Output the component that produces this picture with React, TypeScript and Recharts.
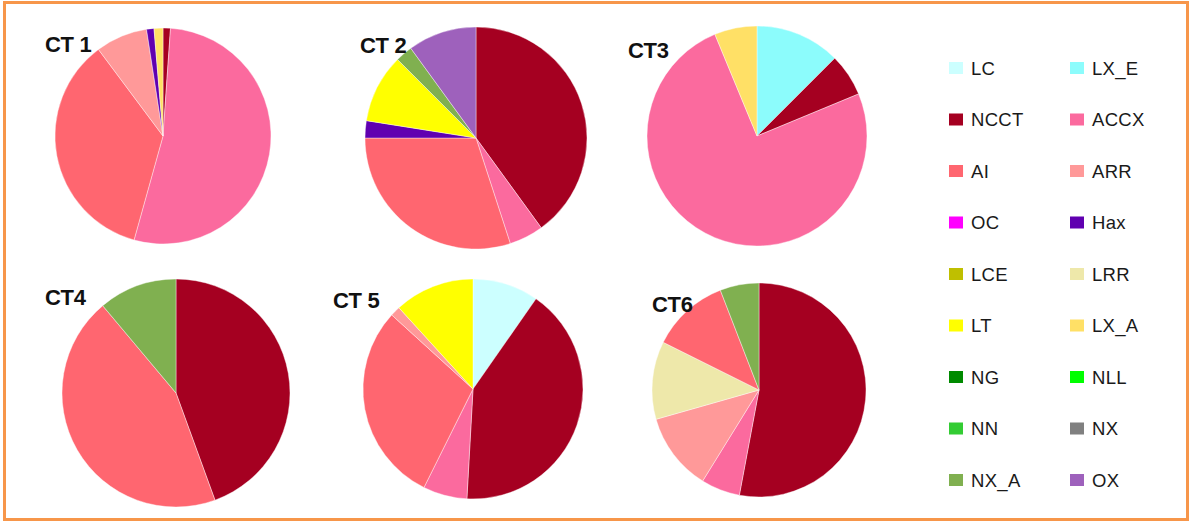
import React from 'react';
import { PieChart, Pie, Cell, Legend } from 'recharts';

const legendNames = ['LC', 'LX_E', 'NCCT', 'ACCX', 'AI', 'ARR', 'OC', 'Hax', 'LCE', 'LRR', 'LT', 'LX_A', 'NG', 'NLL', 'NN', 'NX', 'NX_A', 'OX'];
const legendColors = ['#CCFFFF', '#8CFCFC', '#A50021', '#FB6A9E', '#FF6670', '#FF9999', '#FF00FF', '#6000B0', '#BFBF00', '#EEE8AA', '#FFFF00', '#FFE066', '#008A00', '#00FF00', '#33CC33', '#808080', '#80B050', '#9E61BC'];

const ct1 = [
  { name: 'NCCT', value: 1 },
  { name: 'ACCX', value: 48 },
  { name: 'AI', value: 32 },
  { name: 'ARR', value: 7 },
  { name: 'Hax', value: 1 },
  { name: 'LX_A', value: 1.2 },
];
const ct2 = [
  { name: 'NCCT', value: 16 },
  { name: 'ACCX', value: 2 },
  { name: 'AI', value: 12 },
  { name: 'Hax', value: 1 },
  { name: 'LT', value: 4 },
  { name: 'NX_A', value: 1 },
  { name: 'OX', value: 4 },
];
const ct3 = [
  { name: 'LX_E', value: 2 },
  { name: 'NCCT', value: 1 },
  { name: 'ACCX', value: 12 },
  { name: 'LX_A', value: 1 },
];
const ct4 = [
  { name: 'NCCT', value: 4 },
  { name: 'AI', value: 4 },
  { name: 'NX_A', value: 1 },
];
const ct5 = [
  { name: 'LC', value: 6.6 },
  { name: 'NCCT', value: 28 },
  { name: 'ACCX', value: 4.4 },
  { name: 'AI', value: 20 },
  { name: 'ARR', value: 1 },
  { name: 'LT', value: 8 },
];
const ct6 = [
  { name: 'NCCT', value: 9 },
  { name: 'ACCX', value: 1 },
  { name: 'ARR', value: 2 },
  { name: 'LRR', value: 2 },
  { name: 'AI', value: 2 },
  { name: 'NX_A', value: 1 },
];

const pieTitles = ['CT 1', 'CT 2', 'CT3', 'CT4', 'CT 5', 'CT6'];
const pieData = [ct1, ct2, ct3, ct4, ct5, ct6];

const layout = [
  { cx: 163, cy: 136, r: 108, tx: 45, ty: 52 },
  { cx: 476, cy: 138, r: 111, tx: 360, ty: 53 },
  { cx: 757, cy: 136, r: 110, tx: 628, ty: 58 },
  { cx: 176, cy: 393, r: 114, tx: 45, ty: 305 },
  { cx: 473, cy: 389, r: 110, tx: 333, ty: 308 },
  { cx: 759, cy: 390, r: 107, tx: 652, ty: 312 },
];

const colorOf = (n: string) => legendColors[legendNames.indexOf(n)];

const renderLegend = () => (
  <svg width={260} height={480} style={{ position: 'absolute', left: 930, top: 20 }}>
    {legendNames.map((n, i) => {
      const col = i % 2;
      const row = Math.floor(i / 2);
      const x = 19 + col * 121;
      const y = 48 + row * 51.5;
      return (
        <g key={n}>
          <rect x={x} y={y - 6} width={14} height={12} fill={legendColors[i]} />
          <text x={x + 22} y={y + 6.5} fontSize={18.5} fill="#1a1a1a" fontFamily="Liberation Sans, Arial, sans-serif" letterSpacing={0.3}>
            {n}
          </text>
        </g>
      );
    })}
  </svg>
);

export default function App() {
  return (
    <div style={{ position: 'absolute', left: 0, top: 0, width: 1190, height: 522, background: '#fff' }}>
      <div
        style={{
          position: 'absolute',
          left: 3,
          top: 1,
          width: 1180,
          height: 514,
          border: '3px solid #F7964A',
        }}
      />
      <div style={{ position: 'absolute', left: 0, top: 0 }}>
        <PieChart width={1190} height={522} margin={{ top: 0, right: 0, bottom: 0, left: 0 }}>
          {pieData.map((d, i) => (
            <Pie
              key={pieTitles[i]}
              data={d}
              dataKey="value"
              nameKey="name"
              cx={layout[i].cx}
              cy={layout[i].cy}
              outerRadius={layout[i].r}
              startAngle={90}
              endAngle={-270}
              stroke="#ffffff"
              strokeWidth={0.4}
              isAnimationActive={false}
              legendType="square"
            >
              {d.map((e) => (
                <Cell key={e.name} fill={colorOf(e.name)} />
              ))}
            </Pie>
          ))}
          <Legend content={renderLegend} wrapperStyle={{ position: 'absolute', left: 0, top: 0, width: 0, height: 0 }} />
        </PieChart>
      </div>
      <svg width={1190} height={522} style={{ position: 'absolute', left: 0, top: 0, pointerEvents: 'none' }}>
        {pieTitles.map((t, i) => (
          <text
            key={t}
            x={layout[i].tx}
            y={layout[i].ty}
            fontSize={22}
            fontWeight="bold"
            fill="#111"
            fontFamily="Liberation Sans, Arial, sans-serif"
            letterSpacing={-0.3}
          >
            {t}
          </text>
        ))}
      </svg>
    </div>
  );
}
